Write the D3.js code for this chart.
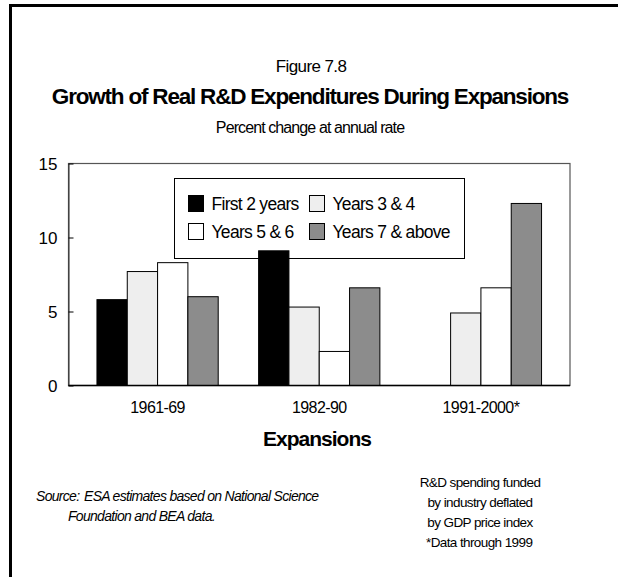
<!DOCTYPE html>
<html>
<head>
<meta charset="utf-8">
<script src="https://cdn.jsdelivr.net/npm/d3@7"></script>
<style>
  body { margin: 0; background: #fff; }
  text { font-family: "Liberation Sans", Arial, sans-serif; fill: #000; }
</style>
</head>
<body>
<div id="chart"></div>
<script>
// chart data
var categories = ["1961-69", "1982-90", "1991-2000*"];
var seriesNames = ["First 2 years", "Years 3 & 4", "Years 5 & 6", "Years 7 & above"];
var firstTwoYears = [5.8, 9.1, null];
var yearsThreeFour = [7.7, 5.3, 4.9];
var yearsFiveSix = [8.3, 2.3, 6.6];
var yearsSevenUp = [6.0, 6.6, 12.3];
var yTicks = [0, 5, 10, 15];
var seriesColors = ["#000000", "#eeeeee", "#ffffff", "#8c8c8c"];

var svgWidth = 619;
var svgHeight = 577;

// plot area
var plot = { left: 68.5, right: 570, top: 163.5, bottom: 385.5 };

var svg = d3.select("#chart")
    .append("svg")
    .attr("width", svgWidth)
    .attr("height", svgHeight);

// outer border (left and top only)
svg.append("path")
    .attr("d", "M10.5,577 V5.5 H618")
    .attr("fill", "none")
    .attr("stroke", "#000")
    .attr("stroke-width", 3);

// headings
svg.append("text")
    .attr("x", 311).attr("y", 72)
    .attr("text-anchor", "middle")
    .style("font-size", "17px")
    .style("letter-spacing", "-0.6px")
    .text("Figure 7.8");

svg.append("text")
    .attr("x", 310).attr("y", 104)
    .attr("text-anchor", "middle")
    .style("font-size", "22.5px")
    .style("font-weight", "bold")
    .style("letter-spacing", "-1.2px")
    .text("Growth of Real R&D Expenditures During Expansions");

svg.append("text")
    .attr("x", 310).attr("y", 133)
    .attr("text-anchor", "middle")
    .style("font-size", "16px")
    .style("letter-spacing", "-0.9px")
    .text("Percent change at annual rate");

// scales
var x0 = d3.scaleBand()
    .domain(categories)
    .range([plot.left, plot.right])
    .paddingInner(0.25)
    .paddingOuter(0.176);

var x1 = d3.scaleBand()
    .domain(seriesNames)
    .range([0, x0.bandwidth()]);

var yScale = d3.scaleLinear()
    .domain([0, 15])
    .range([plot.bottom, plot.top]);

// plot frame
svg.append("rect")
    .attr("x", plot.left).attr("y", plot.top)
    .attr("width", plot.right - plot.left)
    .attr("height", plot.bottom - plot.top)
    .attr("fill", "none")
    .attr("stroke", "#555")
    .attr("stroke-width", 1.2);

// y axis with inside ticks
var leftAxis = d3.axisLeft(yScale)
    .tickValues(yTicks)
    .tickSizeInner(-5)
    .tickSizeOuter(0)
    .tickPadding(11);

var yAxis = svg.append("g")
    .attr("transform", `translate(${plot.left}, 0)`)
    .call(leftAxis);
yAxis.select(".domain").attr("stroke", "#333");
yAxis.selectAll("line").attr("stroke", "#000");
yAxis.selectAll("text")
    .style("font-size", "17px")
    .style("font-family", "Liberation Sans, Arial, sans-serif")
    .attr("dy", "0.38em");

// legend (drawn under the bars, the tall 1982-90 bar overlaps it)
var legend = svg.append("g")
    .attr("transform", "translate(174.5, 178.5)");

legend.append("rect")
    .attr("width", 290).attr("height", 80)
    .attr("fill", "#fff")
    .attr("stroke", "#000")
    .attr("stroke-width", 1);

var legendPos = [[14, 17], [135, 17], [14, 45], [135, 45]];
var legendOrder = [0, 1, 2, 3];

var items = legend.selectAll(".item")
    .data(legendOrder)
    .enter()
    .append("g")
    .attr("class", "item")
    .attr("transform", d => `translate(${legendPos[d][0]}, ${legendPos[d][1]})`);

items.append("rect")
    .attr("width", 15).attr("height", 16)
    .attr("fill", d => seriesColors[d])
    .attr("stroke", "#000")
    .attr("stroke-width", 1);

items.append("text")
    .attr("x", 23).attr("y", 14.5)
    .style("font-size", "17.5px")
    .style("letter-spacing", "-0.7px")
    .text(d => seriesNames[d]);

// bars
var table = categories.map(function(c, i) {
    return [firstTwoYears[i], yearsThreeFour[i], yearsFiveSix[i], yearsSevenUp[i]];
});

var groups = svg.selectAll(".group")
    .data(table)
    .enter()
    .append("g")
    .attr("class", "group")
    .attr("transform", (d, i) => `translate(${x0(categories[i])}, 0)`);

groups.selectAll("rect")
    .data(d => d.map((v, j) => ({ value: v, name: seriesNames[j], idx: j })))
    .enter()
    .filter(d => d.value !== null)
    .append("rect")
    .attr("x", d => x1(d.name))
    .attr("y", d => yScale(d.value))
    .attr("width", x1.bandwidth())
    .attr("height", d => yScale(0) - yScale(d.value))
    .attr("fill", d => seriesColors[d.idx])
    .attr("stroke", "#000")
    .attr("stroke-width", 1);

// bottom line
svg.append("line")
    .attr("x1", plot.left).attr("x2", plot.right)
    .attr("y1", plot.bottom).attr("y2", plot.bottom)
    .attr("stroke", "#000")
    .attr("stroke-width", 1.5);

// category labels
var bottomAxis = d3.axisBottom(x0).tickSize(0).tickPadding(16);
var xAxis = svg.append("g")
    .attr("transform", `translate(0, ${plot.bottom})`)
    .call(bottomAxis);
xAxis.select(".domain").remove();
xAxis.selectAll("text")
    .style("font-size", "16px")
    .style("font-family", "Liberation Sans, Arial, sans-serif")
    .style("letter-spacing", "-0.6px");

// x axis title
svg.append("text")
    .attr("x", 317).attr("y", 446)
    .attr("text-anchor", "middle")
    .style("font-size", "21px")
    .style("font-weight", "bold")
    .style("letter-spacing", "-1px")
    .text("Expansions");

// source notes
var source = svg.append("g")
    .style("font-style", "italic")
    .style("font-size", "14px")
    .style("letter-spacing", "-0.7px");

source.append("text").attr("x", 36).attr("y", 501)
    .text("Source:");
source.append("text").attr("x", 84).attr("y", 501)
    .text("ESA estimates based on National Science");
source.append("text").attr("x", 68).attr("y", 521)
    .text("Foundation and BEA data.");

var notes = ["R&D spending funded", "by industry deflated", "by GDP price index"];
var noteGroup = svg.append("g")
    .style("font-size", "13.5px")
    .style("letter-spacing", "-0.6px");

noteGroup.selectAll("text")
    .data(notes)
    .enter()
    .append("text")
    .attr("x", 480)
    .attr("y", (d, i) => 487 + i * 20)
    .attr("text-anchor", "middle")
    .text(d => d);

noteGroup.append("text")
    .attr("x", 426).attr("y", 547)
    .text("*Data through 1999");
</script>
</body>
</html>
